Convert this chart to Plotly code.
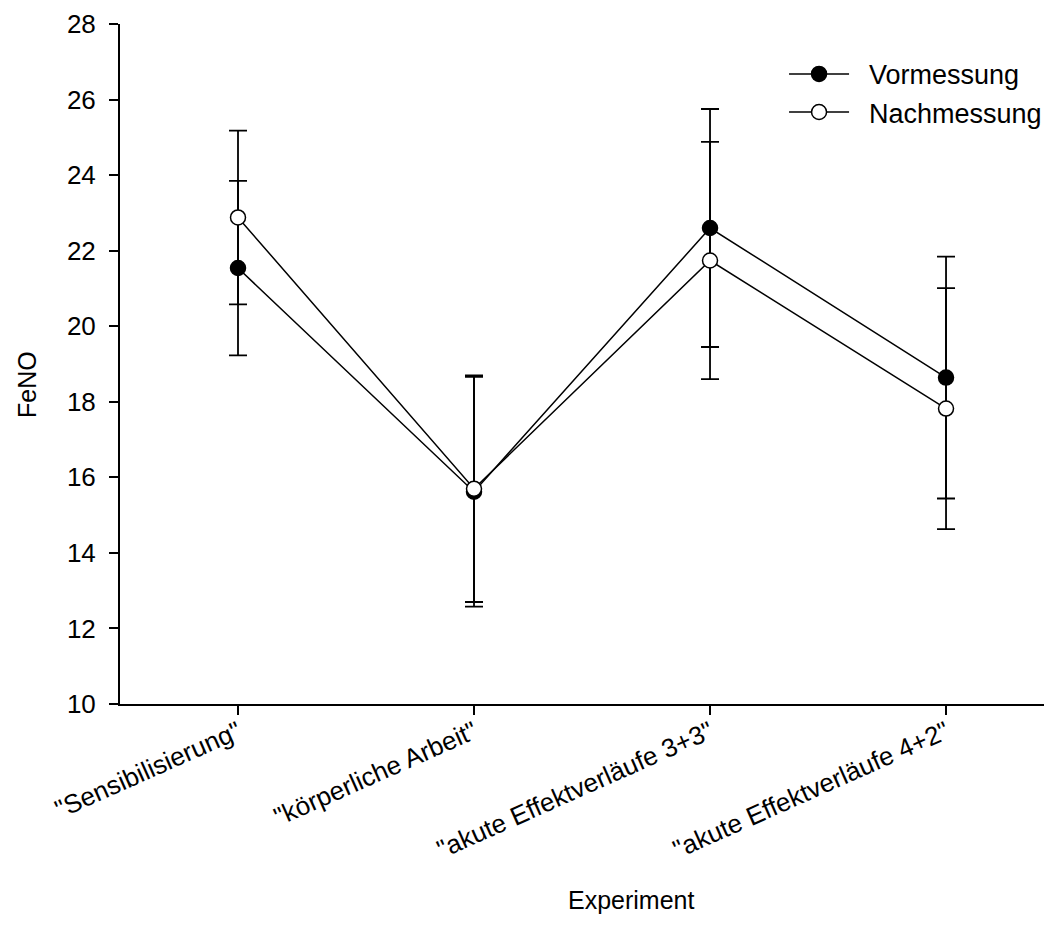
import plotly.graph_objects as go

categories = ['"Sensibilisierung"', '"körperliche Arbeit"',
              '"akute Effektverläufe 3+3"', '"akute Effektverläufe 4+2"']
vor_values = [21.54, 15.62, 22.60, 18.64]
vor_errors = [2.31, 3.04, 3.15, 3.20]
nach_values = [22.88, 15.70, 21.74, 17.82]
nach_errors = [2.30, 3.00, 3.14, 3.19]
y_ticks = [10, 12, 14, 16, 18, 20, 22, 24, 26, 28]

FONT = "Liberation Sans, Arial, sans-serif"
NBSP = "\u00a0"
xpos = list(range(len(categories)))

fig = go.Figure()
fig.add_trace(go.Scatter(
    x=xpos, y=vor_values, name=NBSP * 2 + "Vormessung", mode="lines+markers",
    line=dict(color="black", width=1.5),
    marker=dict(symbol="circle", size=15, color="black",
                line=dict(color="black", width=1.5)),
    error_y=dict(type="data", array=vor_errors, visible=True,
                 color="black", thickness=1.8, width=9),
))
fig.add_trace(go.Scatter(
    x=xpos, y=nach_values, name=NBSP * 2 + "Nachmessung", mode="lines+markers",
    line=dict(color="black", width=1.5),
    marker=dict(symbol="circle", size=15, color="white",
                line=dict(color="black", width=1.5)),
    error_y=dict(type="data", array=nach_errors, visible=True,
                 color="black", thickness=1.8, width=9),
))

# page body has an 8px default margin, so the figure is 8px smaller
fig.update_layout(
    width=1044, height=933,
    margin=dict(l=112, r=0, t=16, b=237, autoexpand=False),
    paper_bgcolor="white", plot_bgcolor="white",
    font=dict(family=FONT, size=26, color="black"),
    showlegend=True,
    legend=dict(x=0.7125, y=0.962, xanchor="left", yanchor="top",
                bgcolor="rgba(0,0,0,0)", font=dict(size=27),
                itemwidth=60, tracegroupgap=0),
    xaxis=dict(
        range=[-0.5, 3.449], tickmode="array", tickvals=xpos,
        ticktext=categories, tickangle=-24,
        showline=True, linecolor="black", linewidth=2,
        ticks="outside", ticklen=9, tickwidth=2, tickcolor="black",
        showgrid=False, zeroline=False, automargin=False,
        tickfont=dict(size=26, family=FONT),
        ticklabelstandoff=-8,
    ),
    yaxis=dict(
        range=[10, 28], tickmode="array", tickvals=y_ticks,
        showline=True, linecolor="black", linewidth=2,
        ticks="outside", ticklen=9, tickwidth=2, tickcolor="black",
        showgrid=False, zeroline=False, automargin=False,
        tickfont=dict(size=26, family=FONT),
        ticklabelstandoff=8,
    ),
    annotations=[
        dict(text="FeNO", xref="paper", yref="paper",
             x=(27 - 120) / 932, y=(704 - 385) / 680,
             textangle=-90, showarrow=False,
             xanchor="center", yanchor="middle",
             font=dict(size=25, family=FONT)),
        dict(text="Experiment", xref="paper", yref="paper",
             x=(631 - 120) / 932, y=-(900 - 704) / 680,
             showarrow=False, xanchor="center", yanchor="middle",
             font=dict(size=25, family=FONT)),
    ],
)

fig.write_html("out.html")
